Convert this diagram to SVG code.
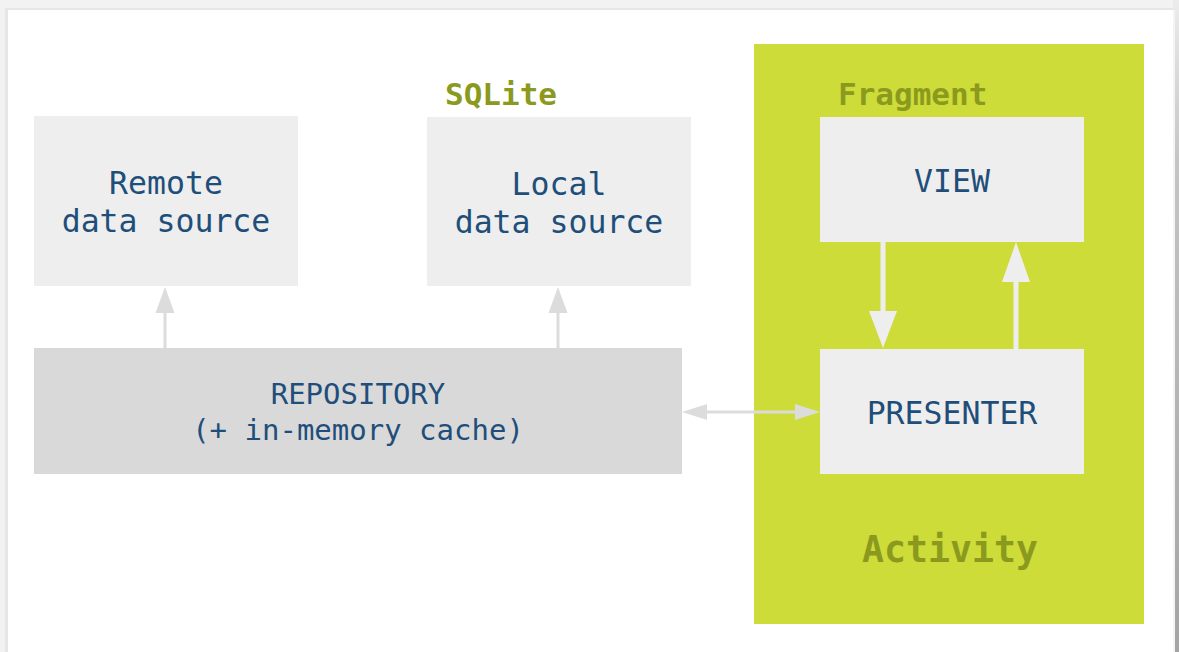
<svg xmlns="http://www.w3.org/2000/svg" width="1179" height="652" viewBox="0 0 1179 652">
  <defs>
    <linearGradient id="edgeRight" x1="0" y1="0" x2="0" y2="1">
      <stop offset="0" stop-color="#ececec"/>
      <stop offset="0.25" stop-color="#c4c4c4"/>
      <stop offset="1" stop-color="#a4a4a4"/>
    </linearGradient>
    <style>
      .box { fill: #eeeeee; }
      .repo { fill: #d9d9d9; }
      .label { font-family: "DejaVu Sans Mono", "Liberation Mono", monospace; fill: #1f4e7a; font-size: 31.5px; text-anchor: middle; }
      .small { font-size: 29px; }
      .tag { font-family: "DejaVu Sans Mono", "Liberation Mono", monospace; font-weight: bold; fill: #8b9a1e; font-size: 31px; }
      .big { font-size: 36.5px; text-anchor: middle; }
      .link { stroke: #dcdcdc; stroke-width: 3; fill: none; }
      .head { fill: #dcdcdc; }
      .inner { stroke: #eeeeee; stroke-width: 5; fill: none; }
      .innerHead { fill: #eeeeee; }
    </style>
  </defs>

  <!-- page frame -->
  <rect x="0" y="0" width="1179" height="652" fill="#f2f2f2"/>
  <rect x="5" y="8" width="1168" height="644" fill="#e6e6e6"/>
  <rect x="8" y="10" width="1165" height="642" fill="#ffffff"/>
  <rect x="1173" y="0" width="6" height="652" fill="url(#edgeRight)"/>
  <rect x="1173" y="10" width="2" height="642" fill="#f4f4f4"/>

  <!-- activity container -->
  <g id="activity">
    <rect x="754" y="44" width="390" height="580" fill="#cddc39"/>
    <text class="tag" x="838" y="105">Fragment</text>
    <text class="tag big" x="950" y="562">Activity</text>
  </g>

  <g id="remote">
    <rect class="box" x="34" y="116" width="264" height="170"/>
    <text class="label" x="166" y="194">Remote</text>
    <text class="label" x="166" y="232">data source</text>
  </g>

  <g id="local">
    <text class="tag" x="445" y="105">SQLite</text>
    <rect class="box" x="427" y="117" width="264" height="169"/>
    <text class="label" x="559" y="195">Local</text>
    <text class="label" x="559" y="233">data source</text>
  </g>

  <g id="repository">
    <rect class="repo" x="34" y="348" width="648" height="126"/>
    <text class="label small" x="358" y="404">REPOSITORY</text>
    <text class="label small" x="358" y="440">(+ in-memory cache)</text>
  </g>

  <g id="view">
    <rect class="box" x="820" y="117" width="264" height="125"/>
    <text class="label" x="952" y="192">VIEW</text>
  </g>

  <g id="presenter">
    <rect class="box" x="820" y="349" width="264" height="125"/>
    <text class="label" x="952" y="424">PRESENTER</text>
  </g>

  <!-- connectors -->
  <g id="connectors">
    <!-- repository to remote -->
    <line class="link" x1="165" y1="348" x2="165" y2="310"/>
    <polygon class="head" points="165,287 155.5,313 174.5,313"/>
    <!-- repository to local -->
    <line class="link" x1="558" y1="348" x2="558" y2="310"/>
    <polygon class="head" points="558,287 548.5,313 567.5,313"/>
    <!-- repository <-> presenter -->
    <line class="link" x1="704" y1="412" x2="798" y2="412"/>
    <polygon class="head" points="682,412 707,404 707,420"/>
    <polygon class="head" points="820,412 795,404 795,420"/>
    <!-- view to presenter -->
    <line class="inner" x1="883" y1="242" x2="883" y2="314"/>
    <polygon class="innerHead" points="883,348 869,311 897,311"/>
    <!-- presenter to view -->
    <line class="inner" x1="1016" y1="349" x2="1016" y2="279"/>
    <polygon class="innerHead" points="1016,242 1002,282 1030,282"/>
  </g>
</svg>
